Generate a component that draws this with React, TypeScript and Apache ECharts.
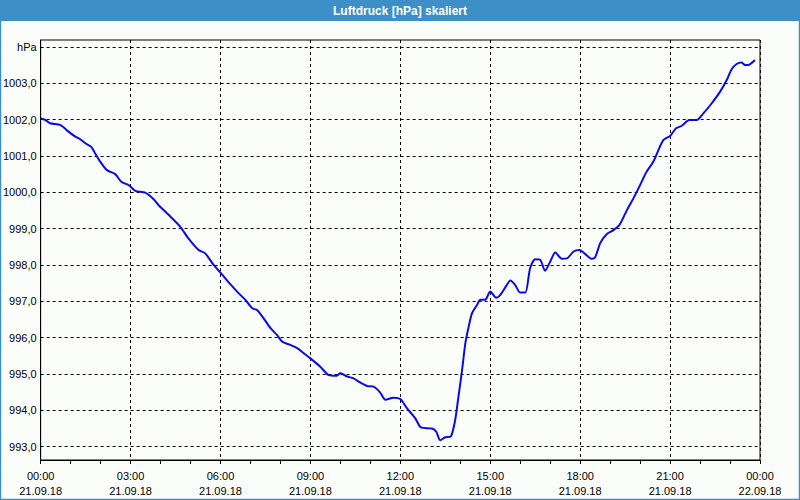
import React, { useEffect, useRef } from "react";
import * as echarts from "echarts";

const titleText = "Luftdruck [hPa] skaliert";
const unitLabel = "hPa";

// hours since 21.09.18 00:00
const hours = [
  0.0, 0.15, 0.32, 0.66, 0.93, 1.16, 1.32, 1.49, 1.69, 1.82, 1.99, 2.21, 2.49, 2.69, 2.93,
  3.16, 3.49, 3.77, 3.93, 4.27, 4.66, 4.93, 5.27, 5.49, 5.77, 6.02, 6.32, 6.61, 6.83, 7.06,
  7.22, 7.44, 7.67, 7.89, 8.06, 8.33, 8.56, 8.78, 9.0, 9.33, 9.61, 9.87, 10.0, 10.22, 10.44,
  10.61, 10.89, 11.11, 11.33, 11.5, 11.78, 12.0, 12.22, 12.5, 12.69, 13.06, 13.2, 13.33, 13.5,
  13.69, 13.83, 13.94, 14.06, 14.17, 14.28, 14.39, 14.56, 14.67, 14.83, 15.0, 15.2, 15.33,
  15.53, 15.67, 15.83, 16.0, 16.17, 16.33, 16.5, 16.67, 16.83, 17.0, 17.17, 17.39, 17.56,
  17.78, 17.98, 18.17, 18.39, 18.5, 18.67, 18.89, 19.11, 19.31, 19.56, 19.78, 20.0, 20.22,
  20.44, 20.61, 20.78, 21.0, 21.2, 21.39, 21.64, 21.89, 22.11, 22.39, 22.67, 22.89, 23.06,
  23.22, 23.39, 23.5, 23.64, 23.83,
];

const pressure = [
  1002.03, 1001.99, 1001.9, 1001.85, 1001.67, 1001.53, 1001.46, 1001.35, 1001.25, 1001.07,
  1000.84, 1000.61, 1000.5, 1000.29, 1000.2, 1000.04, 999.99, 999.81, 999.65, 999.38, 999.05,
  998.73, 998.41, 998.32, 998.0, 997.77, 997.48, 997.22, 997.04, 996.81, 996.76, 996.53,
  996.26, 996.07, 995.89, 995.8, 995.71, 995.57, 995.43, 995.2, 994.97, 994.95, 995.02,
  994.93, 994.88, 994.79, 994.67, 994.65, 994.49, 994.29, 994.35, 994.31, 994.06, 993.78,
  993.53, 993.5, 993.41, 993.18, 993.26, 993.29, 993.73, 994.38, 995.11, 995.85, 996.3,
  996.67, 996.9, 997.04, 997.04, 997.27, 997.1, 997.17, 997.42, 997.57, 997.45, 997.24,
  997.24, 997.91, 998.16, 998.14, 997.84, 998.09, 998.34, 998.17, 998.18, 998.37, 998.41,
  998.3, 998.17, 998.21, 998.6, 998.85, 998.96, 999.1, 999.51, 999.84, 1000.2, 1000.57,
  1000.84, 1001.16, 1001.44, 1001.55, 1001.76, 1001.83, 1001.99, 1001.99, 1002.17, 1002.45,
  1002.77, 1003.09, 1003.39, 1003.53, 1003.57, 1003.5, 1003.51, 1003.64,
];

const yTickValues = [993, 994, 995, 996, 997, 998, 999, 1000, 1001, 1002, 1003, 1004];
const xTickTimes = ["00:00", "03:00", "06:00", "09:00", "12:00", "15:00", "18:00", "21:00", "00:00"];
const xTickDates = [
  "21.09.18", "21.09.18", "21.09.18", "21.09.18", "21.09.18",
  "21.09.18", "21.09.18", "21.09.18", "22.09.18",
];

const FONT = "Liberation Sans";

export default function App() {
  const ref = useRef<HTMLDivElement>(null);

  useEffect(() => {
    if (!ref.current) return;
    const chart = echarts.init(ref.current, undefined, { renderer: "svg" });
    const data = hours.map((h, i) => [h, pressure[i]]);
    chart.setOption({
      animation: false,
      backgroundColor: "#fbfdfb",
      textStyle: { fontFamily: FONT },
      graphic: [
        {
          type: "rect",
          shape: { x: 0, y: 0, width: 800, height: 21 },
          style: { fill: "#3c8fc7" },
          z: 10,
        },
        {
          type: "rect",
          shape: { x: 0.5, y: 0.5, width: 799, height: 499 },
          style: { fill: "none", stroke: "#3c8fc7", lineWidth: 1.5 },
          z: 10,
        },
        {
          type: "text",
          x: 400,
          y: 10.5,
          style: {
            text: titleText,
            fill: "#ffffff",
            font: `bold 12px "${FONT}"`,
            textAlign: "center",
            textVerticalAlign: "middle",
          },
          z: 11,
        },
      ],
      grid: {
        left: 40,
        right: 40,
        top: 40,
        bottom: 40,
        show: true,
        borderColor: "#000",
        borderWidth: 1,
        backgroundColor: "transparent",
      },
      xAxis: {
        type: "value",
        min: 0,
        max: 24,
        interval: 3,
        axisLine: { show: true, lineStyle: { color: "#000", width: 1 } },
        axisTick: { show: true, length: 4, lineStyle: { color: "#000" } },
        minorTick: { show: true, splitNumber: 3, length: 4, lineStyle: { color: "#000" } },
        splitLine: { show: true, lineStyle: { color: "#000", type: [3, 3], width: 1 } },
        axisLabel: {
          margin: 8,
          color: "#000",
          fontSize: 11,
          fontFamily: FONT,
          lineHeight: 15,
          formatter: (v: number) => {
            const i = Math.round(v / 3);
            return `${xTickTimes[i]}\n${xTickDates[i]}`;
          },
        },
      },
      yAxis: {
        type: "value",
        min: 992.634,
        max: 1004.19,
        axisLine: { show: true, lineStyle: { color: "#000", width: 1 } },
        axisTick: { show: false, customValues: yTickValues },
        splitLine: { show: true, lineStyle: { color: "#000", type: [3, 3], width: 1 } },
        axisLabel: {
          customValues: yTickValues,
          margin: 4,
          color: "#000",
          fontSize: 11,
          fontFamily: FONT,
          formatter: (v: number) =>
            Math.round(v) === 1004 ? unitLabel : v.toFixed(1).replace(".", ","),
        },
      },
      series: [
        {
          type: "line",
          data,
          showSymbol: false,
          smooth: 0.25,
          lineStyle: { color: "#0a0ae6", width: 2 },
          itemStyle: { color: "#0a0ae6" },
        },
      ],
    });
    return () => chart.dispose();
  }, []);

  return (
    <div
      ref={ref}
      style={{ position: "absolute", left: 0, top: 0, width: 800, height: 500 }}
    />
  );
}
